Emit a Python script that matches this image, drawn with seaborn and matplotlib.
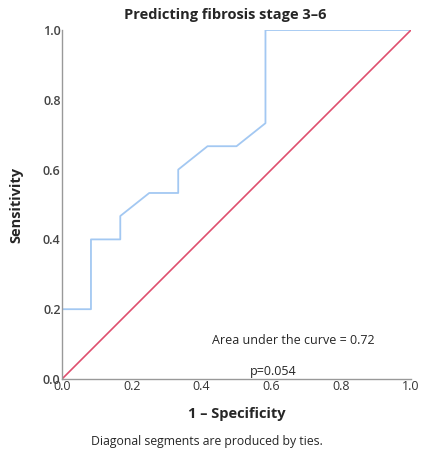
import matplotlib
matplotlib.use("Agg")
import matplotlib.pyplot as plt
import seaborn as sns
import pandas as pd

# ROC curve coordinates (1 - specificity, sensitivity)
fpr = [0.0, 0.0, 0.083, 0.083, 0.167, 0.167, 0.25, 0.333, 0.333, 0.417, 0.5, 0.583, 0.583, 1.0]
tpr = [0.0, 0.2, 0.2, 0.4, 0.4, 0.467, 0.533, 0.533, 0.6, 0.667, 0.667, 0.733, 1.0, 1.0]
ref_line = [0.0, 1.0]
ticks = [0.0, 0.2, 0.4, 0.6, 0.8, 1.0]
auc_text = "Area under the curve = 0.72"
p_text = "p=0.054"

sns.set_theme(style="white")
plt.rcParams["font.family"] = ["Open Sans", "DejaVu Sans"]

fig = plt.figure(figsize=(4.22, 4.54), dpi=100)
ax = fig.add_axes([62 / 422, 1 - 379 / 454, 349 / 422, 349 / 454])

roc = pd.DataFrame({"fpr": fpr, "tpr": tpr})
sns.lineplot(data=roc, x="fpr", y="tpr", sort=False, estimator=None,
             color="#a3c8f2", linewidth=1.3, ax=ax)
sns.lineplot(x=ref_line, y=ref_line, color="#df4f6e", linewidth=1.2, ax=ax)

ax.set_xlim(0, 1)
ax.set_ylim(0, 1)
ax.set_xticks(ticks)
ax.set_yticks(ticks)
ax.set_xticklabels([f"{t:.1f}" for t in ticks], fontsize=9, color="#333333")
ax.set_yticklabels([f"{t:.1f}" for t in ticks], fontsize=9, color="#444444",
                   fontweight="semibold")
ax.tick_params(axis="both", length=0, pad=1)
for side in ["top", "right"]:
    ax.spines[side].set_visible(False)
for side in ["left", "bottom"]:
    ax.spines[side].set_color("#999999")
    ax.spines[side].set_linewidth(1.0)

ax.set_xlabel("1 – Specificity", fontsize=10.5, fontweight="bold", labelpad=10)
ax.set_ylabel("Sensitivity", fontsize=10.5, fontweight="bold", labelpad=14)
fig.text(225 / 422, 1 - 15 / 454, "Predicting fibrosis stage 3–6", ha="center", va="center",
         fontsize=10.5, fontweight="bold")

ax.text(0.895, 0.111, auc_text, ha="right", va="center", fontsize=9)
ax.text(0.605, 0.022, p_text, ha="center", va="center", fontsize=9)

fig.text(207 / 422, 1 - 441 / 454, "Diagonal segments are produced by ties.",
         ha="center", va="center", fontsize=8.8)

fig.savefig("out.png", dpi=100)
